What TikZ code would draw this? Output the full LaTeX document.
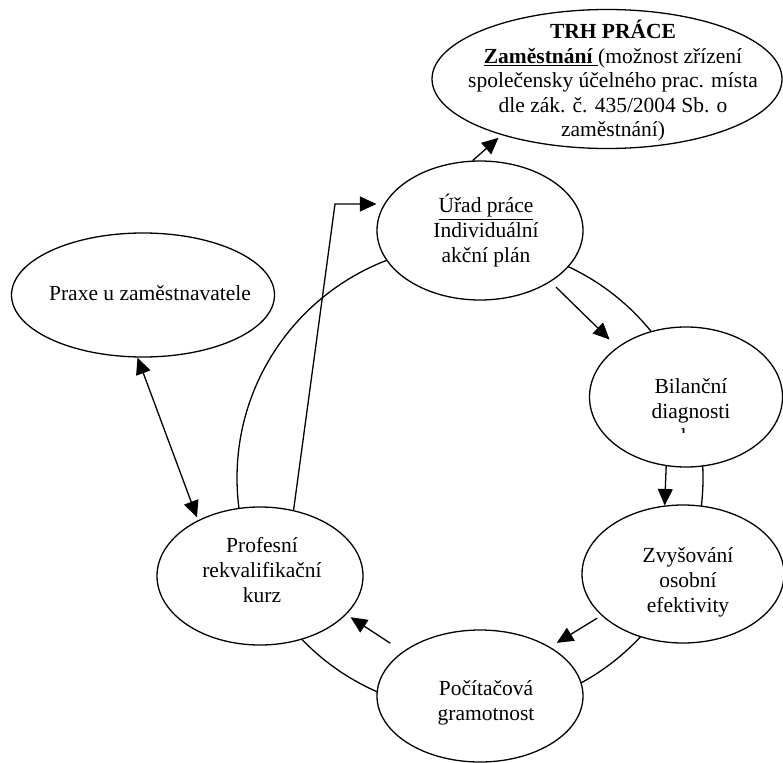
\documentclass[tikz,border=0pt]{standalone}
\usepackage{fontspec}
\setmainfont{Liberation Serif}
\usetikzlibrary{arrows.meta,shapes.geometric}

\begin{document}
\begin{tikzpicture}[x=1pt, y=-1pt, line width=1.3pt,
  oval/.style={ellipse, draw, fill=white, inner sep=0pt},
  lbl/.style={align=center, font=\fontsize{21.5}{24.6}\selectfont, inner sep=0pt, anchor=base},
  tip/.style={Triangle[length=16.5pt,width=15pt]},
  arr/.style={-{Triangle[length=16.5pt,width=15pt]}},
  dblarr/.style={{Triangle[length=16.5pt,width=15pt]}-{Triangle[length=16.5pt,width=15pt]}}]

\useasboundingbox (0,0) rectangle (783,762);

% ring joining the stations of the cycle
\node[circle, draw, minimum size=466pt, inner sep=0pt] (ring) at (470,478) {};

% stations
\node[oval, minimum width=350pt, minimum height=139pt] (trh)  at (607,79)  {};
\node[oval, minimum width=206pt, minimum height=139pt] (urad) at (480,230.5) {};
\node[oval, minimum width=263pt, minimum height=124pt] (prax) at (143,295) {};
\node[oval, minimum width=193pt, minimum height=140pt] (bil)  at (686,397) {};
\node[oval, minimum width=202pt, minimum height=138pt] (zvy)  at (683,574) {};
\node[oval, minimum width=206pt, minimum height=132pt] (poc)  at (480,696) {};
\node[oval, minimum width=206pt, minimum height=138pt] (prof) at (260,576) {};

% texts (anchored at the baseline of their last line)
\node[lbl] (trhtext) at (613,137) {\textbf{TRH PRÁCE}\\
  \underline{\textbf{Zaměstnání} }(možnost zřízení\\
  společensky účelného prac. místa\\
  dle zák. č. 435/2004 Sb. o\\
  zaměstnání)};
\node[lbl] (uradtext) at (486,262) {\underline{Úřad práce}\\ Individuální\\ akční plán};
\node[lbl] (praxtext) at (150,300.5) {Praxe u zaměstnavatele};
\node[lbl] (biltext) at (691,418) {Bilanční\\ diagnosti};
% third line of the box is cut off by its frame
\begin{scope}
  \clip (640,420) rectangle (740,432.5);
  \node[lbl] (biltail) at (691,443) {ka};
\end{scope}
\node[lbl] (zvytext) at (688,612) {Zvyšování\\ osobní\\ efektivity};
\node[lbl] (poctext) at (486,720) {Počítačová\\ gramotnost};
\node[lbl] (proftext) at (262,602) {Profesní\\ rekvalifikační\\ kurz};

% connectors
\coordinate (elbow) at (335,204);
\draw[arr, shorten >=4pt] (urad.96) -- (trh.-152);
\draw[arr] (prof.63) -- (elbow) -- (elbow -| urad.west);
\draw[arr, shorten <=7.6pt, shorten >=10.8pt] (urad.-36.4) -- (bil.144);
\draw[arr] (bil.-106) -- (zvy.105);
\draw[arr, shorten <=5pt, shorten >=7.8pt] (zvy.-153.8) -- (poc.35.1);
\draw[arr, shorten <=15pt, shorten >=5pt] (poc.150.4) -- (prof.-24);
\draw[dblarr, shorten >=3pt] (prax.-95) -- (prof.138);

\end{tikzpicture}
\end{document}
